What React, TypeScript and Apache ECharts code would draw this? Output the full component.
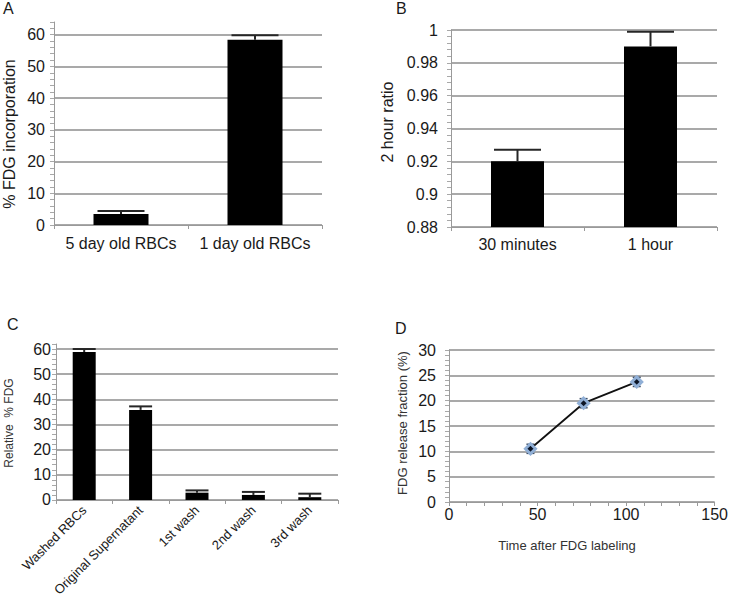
import React, { useEffect, useRef } from "react";
import * as echarts from "echarts";

const aCategories = ["5 day old RBCs", "1 day old RBCs"];
const aValues = [3.5, 58.4];
const aErrors = [0.9, 1.4];

const bCategories = ["30 minutes", "1 hour"];
const bValues = [0.92, 0.99];
const bErrors = [0.007, 0.009];

const cCategories = ["Washed RBCs", "Original Supernatant", "1st wash", "2nd wash", "3rd wash"];
const cValues = [58.8, 35.8, 2.9, 2.0, 1.1];
const cErrors = [1.2, 1.4, 0.9, 1.2, 1.4];

const dTimes = [46, 76, 106];
const dValues = [10.5, 19.5, 23.7];
const dErrors = [0.9, 0.9, 0.9];

const FONT = "Liberation Sans, Arial, sans-serif";
const GRID_COLOR = "#8c8c8c";
const AXIS_COLOR = "#9a9a9a";
const TEXT = "#1a1a1a";
const T = "rgba(0,0,0,0)";

function errSeries(idx: number, cats: boolean, xs: number[], values: number[], errors: number[], capW: number, both: boolean) {
  return {
    type: "custom",
    xAxisIndex: idx,
    yAxisIndex: idx,
    z: 10,
    silent: true,
    clip: false,
    data: values.map((v, i) => [cats ? i : xs[i], v, errors[i]]),
    renderItem: (_p: any, api: any) => {
      const x = api.value(0);
      const v = api.value(1);
      const e = api.value(2);
      const lo = api.coord([x, both ? v - e : v]);
      const hi = api.coord([x, v + e]);
      const stroke = both ? "#3a4a60" : "#262626";
      const lw = both ? 1.5 : 2;
      const children: any[] = [
        { type: "line", shape: { x1: hi[0], y1: lo[1], x2: hi[0], y2: hi[1] }, style: { stroke, lineWidth: lw } },
        { type: "line", shape: { x1: hi[0] - capW / 2, y1: hi[1], x2: hi[0] + capW / 2, y2: hi[1] }, style: { stroke, lineWidth: lw } },
      ];
      if (both) {
        children.push({ type: "line", shape: { x1: lo[0] - capW / 2, y1: lo[1], x2: lo[0] + capW / 2, y2: lo[1] }, style: { stroke, lineWidth: lw } });
      }
      return { type: "group", children };
    },
  };
}

function catAxis(idx: number, data: string[], fontSize: number, margin: number, rotate = 0) {
  return {
    type: "category",
    gridIndex: idx,
    data,
    axisLine: { lineStyle: { color: AXIS_COLOR, width: 1 } },
    axisTick: { show: true, length: 4, lineStyle: { color: AXIS_COLOR } },
    axisLabel: { color: TEXT, fontSize, fontFamily: FONT, margin, rotate, interval: 0 },
    splitLine: { show: false },
  };
}

export default function App() {
  const ref = useRef<HTMLDivElement>(null);
  useEffect(() => {
    if (!ref.current) return;
    const chart = echarts.init(ref.current, undefined, { renderer: "svg" });
    const gridColors5 = [GRID_COLOR, T, T, T, T];
    const option: any = {
      animation: false,
      backgroundColor: "#ffffff",
      grid: [
        { left: 54, top: 22, width: 268, height: 203 },
        { left: 451, top: 30, width: 266, height: 197 },
        { left: 56, top: 344, width: 282, height: 158 },
        { left: 449, top: 350, width: 268, height: 152 },
      ],
      xAxis: [
        catAxis(0, aCategories, 16, 10),
        catAxis(1, bCategories, 16, 9),
        catAxis(2, cCategories, 13, 8, 45),
        {
          type: "value",
          gridIndex: 3,
          min: 0,
          max: 150,
          interval: 10,
          axisLine: { show: true, lineStyle: { color: AXIS_COLOR } },
          axisTick: { show: true, length: 4, lineStyle: { color: AXIS_COLOR } },
          axisLabel: {
            color: TEXT,
            fontSize: 16,
            fontFamily: FONT,
            margin: 4,
            formatter: (v: number) => (v % 50 === 0 ? String(v) : ""),
          },
          splitLine: { show: false },
        },
      ],
      yAxis: [
        {
          type: "value",
          gridIndex: 0,
          min: 0,
          max: 64,
          interval: 2,
          axisLine: { show: true, lineStyle: { color: AXIS_COLOR } },
          axisTick: { show: true, length: 4, lineStyle: { color: "#a8a8a8" } },
          axisLabel: { color: TEXT, fontSize: 16, fontFamily: FONT, margin: 9, formatter: (v: number) => (v % 10 === 0 ? String(v) : "") },
          splitLine: { show: true, lineStyle: { color: gridColors5, width: 1.5 } },
        },
        {
          type: "value",
          gridIndex: 1,
          min: 0.88,
          max: 1,
          interval: 0.02,
          axisLine: { show: true, lineStyle: { color: AXIS_COLOR } },
          axisTick: { show: true, length: 4, lineStyle: { color: "#a8a8a8" } },
          minorTick: { show: true, splitNumber: 5, length: 4, lineStyle: { color: "#a8a8a8" } },
          axisLabel: { color: TEXT, fontSize: 16, fontFamily: FONT, margin: 13, formatter: (v: number) => String(+v.toFixed(2)) },
          splitLine: { show: true, lineStyle: { color: GRID_COLOR, width: 1.5 } },
        },
        {
          type: "value",
          gridIndex: 2,
          min: 0,
          max: 62,
          interval: 2,
          axisLine: { show: true, lineStyle: { color: AXIS_COLOR } },
          axisTick: { show: true, length: 4, lineStyle: { color: "#a8a8a8" } },
          axisLabel: { color: TEXT, fontSize: 16, fontFamily: FONT, margin: 5, formatter: (v: number) => (v % 10 === 0 ? String(v) : "") },
          splitLine: { show: true, lineStyle: { color: gridColors5, width: 1.5 } },
        },
        {
          type: "value",
          gridIndex: 3,
          min: 0,
          max: 30,
          interval: 5,
          axisLine: { show: true, lineStyle: { color: AXIS_COLOR } },
          axisTick: { show: true, length: 4, lineStyle: { color: "#a8a8a8" } },
          minorTick: { show: true, splitNumber: 5, length: 4, lineStyle: { color: "#a8a8a8" } },
          axisLabel: { color: TEXT, fontSize: 16, fontFamily: FONT, margin: 13 },
          splitLine: { show: true, lineStyle: { color: GRID_COLOR, width: 1.5 } },
        },
      ],
      series: [
        { type: "bar", xAxisIndex: 0, yAxisIndex: 0, data: aValues, barWidth: 55, itemStyle: { color: "#000" } },
        errSeries(0, true, [], aValues, aErrors, 47, false),
        { type: "bar", xAxisIndex: 1, yAxisIndex: 1, data: bValues, barWidth: 53, itemStyle: { color: "#000" } },
        errSeries(1, true, [], bValues, bErrors, 47, false),
        { type: "bar", xAxisIndex: 2, yAxisIndex: 2, data: cValues, barWidth: 23, itemStyle: { color: "#000" } },
        errSeries(2, true, [], cValues, cErrors, 23, false),
        errSeries(3, false, dTimes, dValues, dErrors, 8, true),
        {
          type: "line",
          xAxisIndex: 3,
          yAxisIndex: 3,
          z: 12,
          data: dTimes.map((t, i) => [t, dValues[i]]),
          lineStyle: { color: "#111", width: 1.8 },
          symbol: "diamond",
          symbolSize: 10,
          itemStyle: { color: "#0c1526", borderColor: "#90afd6", borderWidth: 3 },
        },
      ],
      graphic: [
        { type: "text", left: 3, top: 0, style: { text: "A", font: `16px ${FONT}`, fill: TEXT } },
        { type: "text", left: 396, top: 0, style: { text: "B", font: `16px ${FONT}`, fill: TEXT } },
        { type: "text", left: 7, top: 316, style: { text: "C", font: `16px ${FONT}`, fill: TEXT } },
        { type: "text", left: 395, top: 320, style: { text: "D", font: `16px ${FONT}`, fill: TEXT } },
        { type: "text", x: 9, y: 134, rotation: Math.PI / 2, style: { text: "% FDG incorporation", font: `16px ${FONT}`, fill: TEXT, align: "center", verticalAlign: "middle" } },
        { type: "text", x: 387, y: 122, rotation: Math.PI / 2, style: { text: "2 hour ratio", font: `16px ${FONT}`, fill: TEXT, align: "center", verticalAlign: "middle" } },
        { type: "text", x: 9, y: 423, rotation: Math.PI / 2, style: { text: "Relative  % FDG", font: `12px ${FONT}`, fill: "#333", align: "center", verticalAlign: "middle" } },
        { type: "text", x: 402, y: 423, rotation: Math.PI / 2, style: { text: "FDG release fraction (%)", font: `13px ${FONT}`, fill: "#333", align: "center", verticalAlign: "middle" } },
        { type: "text", x: 567, y: 545, style: { text: "Time after FDG labeling", font: `13px ${FONT}`, fill: "#333", align: "center", verticalAlign: "middle" } },
      ],
    };
    chart.setOption(option);
    return () => chart.dispose();
  }, []);
  return (
    <div
      ref={ref}
      style={{ position: "fixed", left: 0, top: 0, width: 731, height: 599, background: "#fff" }}
    />
  );
}
